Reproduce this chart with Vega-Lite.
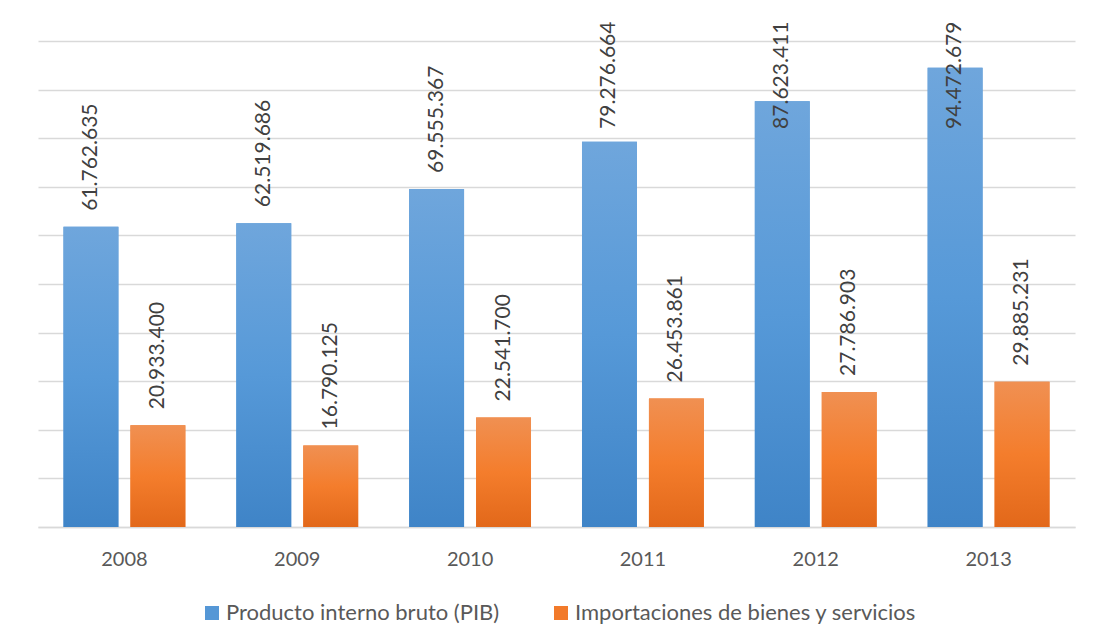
{
  "$schema": "https://vega.github.io/schema/vega-lite/v6.json",
  "width": 1037,
  "height": 486,
  "autosize": {"type": "none"},
  "padding": {"left": 38, "top": 41, "right": 26, "bottom": 114},
  "background": "white",
  "config": {
    "locale": {"number": {"decimal": ",", "thousands": ".", "grouping": [3], "currency": ["$", ""]}},
    "view": {"stroke": null},
    "font": "Lato"
  },
  "data": {
    "values": [
      {"year": "2008", "series": "Producto interno bruto (PIB)", "value": 61762635},
      {"year": "2008", "series": "Importaciones de bienes y servicios", "value": 20933400},
      {"year": "2009", "series": "Producto interno bruto (PIB)", "value": 62519686},
      {"year": "2009", "series": "Importaciones de bienes y servicios", "value": 16790125},
      {"year": "2010", "series": "Producto interno bruto (PIB)", "value": 69555367},
      {"year": "2010", "series": "Importaciones de bienes y servicios", "value": 22541700},
      {"year": "2011", "series": "Producto interno bruto (PIB)", "value": 79276664},
      {"year": "2011", "series": "Importaciones de bienes y servicios", "value": 26453861},
      {"year": "2012", "series": "Producto interno bruto (PIB)", "value": 87623411},
      {"year": "2012", "series": "Importaciones de bienes y servicios", "value": 27786903},
      {"year": "2013", "series": "Producto interno bruto (PIB)", "value": 94472679},
      {"year": "2013", "series": "Importaciones de bienes y servicios", "value": 29885231}
    ]
  },
  "encoding": {
    "x": {
      "field": "year", "type": "nominal",
      "scale": {"paddingInner": 0.295, "paddingOuter": 0.1475},
      "axis": {
        "title": null, "labelAngle": 0, "labelFontSize": 20, "labelColor": "#595959",
        "labelPadding": 22, "ticks": false, "domainColor": "#d9d9d9", "domainWidth": 1.5,
        "labelFont": "Lato"
      }
    },
    "xOffset": {
      "field": "series", "type": "nominal",
      "sort": ["Producto interno bruto (PIB)", "Importaciones de bienes y servicios"],
      "scale": {"paddingInner": 0.18, "paddingOuter": 0}
    },
    "y": {
      "field": "value", "type": "quantitative",
      "scale": {"domain": [0, 100000000], "nice": false},
      "axis": {
        "title": null, "labels": false, "ticks": false, "domain": false,
        "tickCount": 10, "gridColor": "#d9d9d9", "gridWidth": 1.3
      }
    }
  },
  "layer": [
    {
      "mark": {"type": "bar"},
      "encoding": {
        "color": {
          "field": "series", "type": "nominal",
          "scale": {
            "domain": ["Producto interno bruto (PIB)", "Importaciones de bienes y servicios"],
            "range": ["#5597d6", "#f27a2a"]
          },
          "legend": {
            "title": null, "orient": "none", "direction": "horizontal",
            "legendX": 163, "legendY": 561, "padding": 0,
            "symbolType": "square", "symbolSize": 196, "symbolStrokeWidth": 0,
            "labelFontSize": 22, "labelColor": "#595959", "labelFont": "Lato",
            "columnPadding": 50, "labelOffset": 3, "labelLimit": 600
          }
        }
      }
    },
    {
      "transform": [{"filter": "datum.series == 'Producto interno bruto (PIB)'"}],
      "mark": {
        "type": "bar",
        "color": {"gradient": "linear", "x1": 0, "y1": 0, "x2": 0, "y2": 1,
          "stops": [{"offset": 0, "color": "#6fa6dc"}, {"offset": 0.5, "color": "#5699d8"}, {"offset": 1, "color": "#3f84c7"}]}
      }
    },
    {
      "transform": [{"filter": "datum.series == 'Importaciones de bienes y servicios'"}],
      "mark": {
        "type": "bar",
        "color": {"gradient": "linear", "x1": 0, "y1": 0, "x2": 0, "y2": 1,
          "stops": [{"offset": 0, "color": "#f09052"}, {"offset": 0.5, "color": "#f47d2c"}, {"offset": 1, "color": "#e2681a"}]}
      }
    },
    {
      "transform": [{"filter": "datum.value < 75000000"}],
      "mark": {"type": "text", "angle": -90, "align": "left", "baseline": "middle", "dx": 16, "fontSize": 21, "color": "#404040"},
      "encoding": {
        "text": {"field": "value", "type": "quantitative", "format": ",d"}
      }
    },
    {
      "transform": [{"filter": "datum.value >= 75000000"}],
      "mark": {"type": "text", "angle": -90, "align": "right", "baseline": "middle", "fontSize": 21, "color": "#404040"},
      "encoding": {
        "y": {"datum": 104000000, "type": "quantitative"},
        "text": {"field": "value", "type": "quantitative", "format": ",d"}
      }
    }
  ]
}
